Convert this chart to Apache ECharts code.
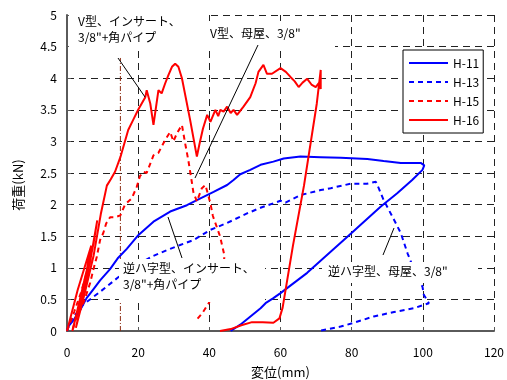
<!DOCTYPE html>
<html><head><meta charset="utf-8">
<script src="https://cdn.jsdelivr.net/npm/echarts@6/dist/echarts.min.js"></script>
<style>html,body{margin:0;padding:0;background:#fff}#c{width:507px;height:380px}</style>
</head><body><div id="c"></div>
<script>
// ---- data (displacement mm, load kN) ----
const seriesNames = ['H-11', 'H-13', 'H-15', 'H-16'];
const xTicks = [0, 20, 40, 60, 80, 100, 120];
const yTicks = [0, 0.5, 1, 1.5, 2, 2.5, 3, 3.5, 4, 4.5, 5];

const h11 = [[0,0],[0.5,0.08],[1.8,0.17],[3.7,0.33],[5.5,0.52],[7.4,0.66],[9.3,0.8],[12.1,0.98],[14.4,1.16],[16.8,1.3],[20.1,1.52],[24.3,1.73],[29,1.89],[33.7,1.99],[37.5,2.1],[41.2,2.2],[45,2.31],[46.8,2.39],[48.7,2.48],[51.5,2.55],[54.4,2.63],[58,2.68],[60.9,2.73],[65.6,2.76],[71.3,2.75],[76.9,2.74],[84.4,2.72],[89,2.69],[93.8,2.66],[99.4,2.66],[100.4,2.62],[99.9,2.55],[97,2.39],[92.8,2.18],[88.2,1.97],[78.8,1.49],[67.5,0.92],[60,0.6],[58,0.52],[55.8,0.44],[54.4,0.36],[48.7,0.1],[46,0]];

const h13 = [[0,0],[0.4,0.07],[1.5,0.2],[4.6,0.42],[9.3,0.62],[14.4,0.85],[19,1.02],[23.9,1.18],[28.1,1.28],[31.8,1.36],[35.6,1.44],[40.3,1.6],[45,1.71],[50.6,1.86],[54.4,1.95],[60,2.06],[61.4,2.03],[65.6,2.15],[71.3,2.23],[74.1,2.26],[79.7,2.33],[84.2,2.33],[86.8,2.36],[87.6,2.26],[89,2.07],[91.9,1.76],[93.8,1.55],[95.7,1.23],[97.5,0.97],[99.9,0.7],[100.3,0.57],[101.7,0.44],[97.5,0.36],[91.9,0.3],[86.2,0.23],[80.6,0.13],[76.9,0.07],[70.7,0]];

const h15 = [[0,0],[2,0.3],[4,0.62],[5.5,0.92],[6.5,1.15],[5,0.72],[3,0.28],[1.5,0],[2.3,0.17],[4.6,0.44],[6.5,0.76],[7.4,0.97],[8.4,1.18],[9.3,1.44],[10.2,1.55],[11,1.7],[12.1,1.8],[13.5,1.8],[15,1.83],[16.3,2.0],[18.2,2.1],[19.6,2.28],[20.5,2.45],[21.5,2.52],[22.4,2.5],[24.3,2.78],[25.7,2.82],[27.1,2.97],[28.1,3.07],[29,3.15],[29.9,3.0],[30.9,3.13],[32.3,3.26],[33.2,2.97],[34.1,2.7],[35.1,2.35],[35.5,2.2],[36.5,2.05],[37.9,2.26],[38.9,2.31],[40.3,2.02],[41,1.82],[43,1.5],[44.3,1.18],[43,0.85],[41.5,0.62],[39.8,0.44],[38,0.28],[36,0.15]];

const h16 = [[0,0],[3,0.65],[6.8,1.35],[5.5,0.95],[3,0.35],[1.5,0],[4,0.55],[6.5,1.1],[8.5,1.75],[7.5,1.4],[5,0.7],[2.5,0.05],[5,0.6],[7.5,1.2],[9.5,1.85],[11.2,2.3],[12.3,2.4],[13.5,2.52],[15,2.75],[17.2,3.18],[18.6,3.34],[20,3.5],[22,3.7],[22.4,3.81],[23.4,3.6],[24.3,3.26],[25.7,3.81],[26.6,3.76],[27.6,3.92],[28.5,4.05],[29.5,4.18],[30.4,4.23],[31.3,4.18],[32.3,4.0],[34.6,3.34],[36.5,2.76],[37.2,2.95],[38.2,3.2],[39.4,3.42],[40.3,3.31],[41.7,3.5],[42.5,3.4],[43.1,3.5],[44,3.47],[45,3.55],[46,3.45],[46.8,3.5],[47.8,3.42],[49.6,3.55],[51.5,3.7],[53,3.92],[53.8,4.1],[55.2,4.21],[56.2,4.07],[57.6,4.07],[60,4.16],[61.5,4.1],[62.8,4.02],[64,3.95],[65.1,3.86],[66.2,3.93],[67.5,3.99],[68.7,3.9],[69.9,3.86],[70.7,3.92],[71.3,3.83],[71.3,4.13],[70.2,3.6],[66.6,2.3],[63.5,1.35],[60.6,0.37],[59.7,0.2],[58,0.13],[55,0.14],[52,0.14],[49,0.09],[46,0.03],[43,0]];

const refLine = [[15,0],[15,4.32]];

// ---- chart ----
const FONT = '"Noto Sans CJK JP", "Noto Sans", sans-serif';
const chart = echarts.init(document.getElementById('c'), null, {renderer:'canvas'});
const gridDash = {type:[7,5], color:'#222', width:1};
function mk(name, data, color, dashed){
  return {name, type:'line', data, symbol:'none', showSymbol:false, animation:false,
    lineStyle:{color, width:2, type: dashed ? [5,4] : 'solid'}, itemStyle:{color}};
}
const option = {
  animation:false,
  backgroundColor:'#fff',
  grid:{left:67, right:13, top:15, bottom:49, containLabel:false, outerBoundsMode:'none'},
  xAxis:{type:'value', min:xTicks[0], max:xTicks[xTicks.length-1], interval:xTicks[1]-xTicks[0],
    name:'変位(mm)', nameLocation:'middle', nameGap:35,
    nameTextStyle:{fontFamily:FONT, fontSize:13, color:'#000'},
    axisLine:{lineStyle:{color:'#5a5a5a', width:2}},
    axisTick:{inside:true, length:4, lineStyle:{color:'#5a5a5a'}},
    axisLabel:{color:'#000', fontSize:12, fontFamily:FONT, margin:15},
    splitLine:{show:true, lineStyle:gridDash}},
  yAxis:{type:'value', min:yTicks[0], max:yTicks[yTicks.length-1], interval:yTicks[1]-yTicks[0],
    axisLine:{show:true, lineStyle:{color:'#5a5a5a', width:2}},
    axisTick:{show:true, inside:true, length:4, lineStyle:{color:'#5a5a5a'}},
    axisLabel:{color:'#000', fontSize:12, fontFamily:FONT, margin:10},
    splitLine:{show:true, lineStyle:gridDash}},
  legend:{data:seriesNames, orient:'vertical', left:403, top:50,
    padding:[7,4,7,5], itemGap:7, itemWidth:39, itemHeight:14,
    borderColor:'#000', borderWidth:1, backgroundColor:'#fff', borderRadius:0,
    itemStyle:{opacity:0},
    textStyle:{fontFamily:FONT, fontSize:12, color:'#000'}},
  series:[
    mk('H-11', h11, '#0000ff', false),
    mk('H-13', h13, '#0000ff', true),
    mk('H-15', h15, '#ff0000', true),
    mk('H-16', h16, '#ff0000', false),
    {name:'ref', type:'line', data:refLine, symbol:'none', silent:true, z:1,
      lineStyle:{color:'#8b2a10', width:1, type:[5,2,1,2]}}
  ],
  graphic:[
    {type:'text', x:18, y:185, rotation:Math.PI/2, z:60,
      style:{text:'荷重(kN)', font:'13px '+FONT, fill:'#000', align:'center', verticalAlign:'middle'}},
    {type:'rect', z:50, shape:{x:69, y:7, width:140, height:43}, style:{fill:'#fff'}},
    {type:'rect', z:50, shape:{x:209, y:21, width:126, height:29}, style:{fill:'#fff'}},
    {type:'rect', z:50, shape:{x:119, y:259, width:146, height:43}, style:{fill:'#fff'}},
    {type:'rect', z:50, shape:{x:322, y:262, width:156, height:21}, style:{fill:'#fff'}},
    {type:'text', z:51, x:78, y:21, style:{text:'V型、インサート、', font:'12px '+FONT, fill:'#000', verticalAlign:'middle'}},
    {type:'text', z:51, x:78, y:37, style:{text:'3/8"+角パイプ', font:'12px '+FONT, fill:'#000', verticalAlign:'middle'}},
    {type:'text', z:51, x:210, y:33, style:{text:'V型、母屋、3/8"', font:'12px '+FONT, fill:'#000', verticalAlign:'middle'}},
    {type:'text', z:51, x:123, y:268, style:{text:'逆ハ字型、インサート、', font:'12px '+FONT, fill:'#000', verticalAlign:'middle'}},
    {type:'text', z:51, x:123, y:284, style:{text:'3/8"+角パイプ', font:'12px '+FONT, fill:'#000', verticalAlign:'middle'}},
    {type:'text', z:51, x:328, y:271, style:{text:'逆ハ字型、母屋、3/8"', font:'12px '+FONT, fill:'#000', verticalAlign:'middle'}},
    {type:'line', z:52, shape:{x1:118, y1:58, x2:145, y2:97}, style:{stroke:'#000', lineWidth:1}},
    {type:'line', z:52, shape:{x1:258, y1:45, x2:195, y2:178}, style:{stroke:'#000', lineWidth:1}},
    {type:'line', z:52, shape:{x1:168, y1:217, x2:182, y2:258}, style:{stroke:'#000', lineWidth:1}},
    {type:'line', z:52, shape:{x1:394, y1:228, x2:383, y2:255}, style:{stroke:'#000', lineWidth:1}}
  ]
};
chart.setOption(option);
</script>
</body></html>
